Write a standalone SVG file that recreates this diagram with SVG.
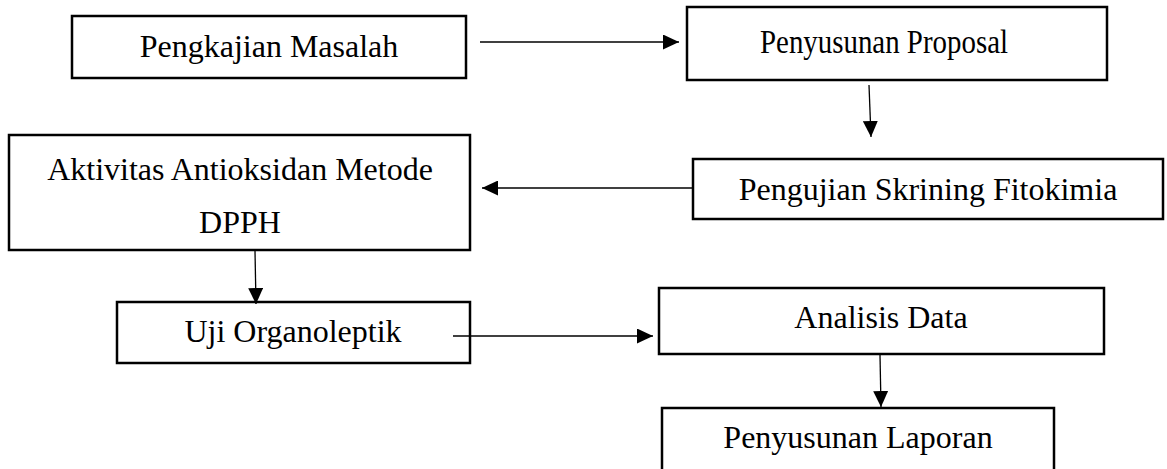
<svg xmlns="http://www.w3.org/2000/svg" width="1167" height="469" viewBox="0 0 1167 469">
<style>
.box{fill:#fff;stroke:#000;stroke-width:2.5}
.lbl{font-family:"Liberation Serif","Times New Roman",serif;font-size:32px;fill:#000;text-anchor:middle}
.conn{stroke:#000;stroke-width:1.3;fill:none;marker-end:url(#ah)}
</style>
<defs>
<marker id="ah" viewBox="0 0 16 15" refX="16" refY="7.5" markerWidth="16" markerHeight="15" markerUnits="userSpaceOnUse" orient="auto">
<path d="M0,0 L16,7.5 L0,15 z" fill="#000"/>
</marker>
</defs>
<rect width="1167" height="469" fill="#fff"/>
<g id="n1"><rect class="box" x="72" y="16" width="394" height="62"/><text class="lbl" x="269" y="57">Pengkajian Masalah</text></g>
<g id="n2"><rect class="box" x="687" y="7" width="420" height="73"/><text class="lbl" x="884" y="53" style="font-size:34px" textLength="248" lengthAdjust="spacingAndGlyphs">Penyusunan Proposal</text></g>
<g id="n3"><rect class="box" x="9" y="135" width="461" height="115"/><text class="lbl" x="240" y="180">Aktivitas Antioksidan Metode</text><text class="lbl" x="240" y="233">DPPH</text></g>
<g id="n4"><rect class="box" x="693" y="159" width="470" height="60"/><text class="lbl" x="928" y="200">Pengujian Skrining Fitokimia</text></g>
<g id="n5"><rect class="box" x="117" y="302" width="353" height="61"/><text class="lbl" x="293" y="342">Uji Organoleptik</text></g>
<g id="n6"><rect class="box" x="659" y="288" width="445" height="66"/><text class="lbl" x="881" y="328">Analisis Data</text></g>
<g id="n7"><rect class="box" x="662" y="408" width="392" height="70"/><text class="lbl" x="858" y="448">Penyusunan Laporan</text></g>
<g id="connectors">
<line class="conn" x1="480" y1="42" x2="679" y2="42"/>
<line class="conn" x1="869" y1="85" x2="871" y2="137"/>
<line class="conn" x1="693" y1="188" x2="482" y2="188"/>
<line class="conn" x1="255" y1="251" x2="256" y2="304"/>
<line class="conn" x1="453" y1="336" x2="653" y2="336"/>
<line class="conn" x1="880" y1="355" x2="881" y2="407"/>
</g>
</svg>
